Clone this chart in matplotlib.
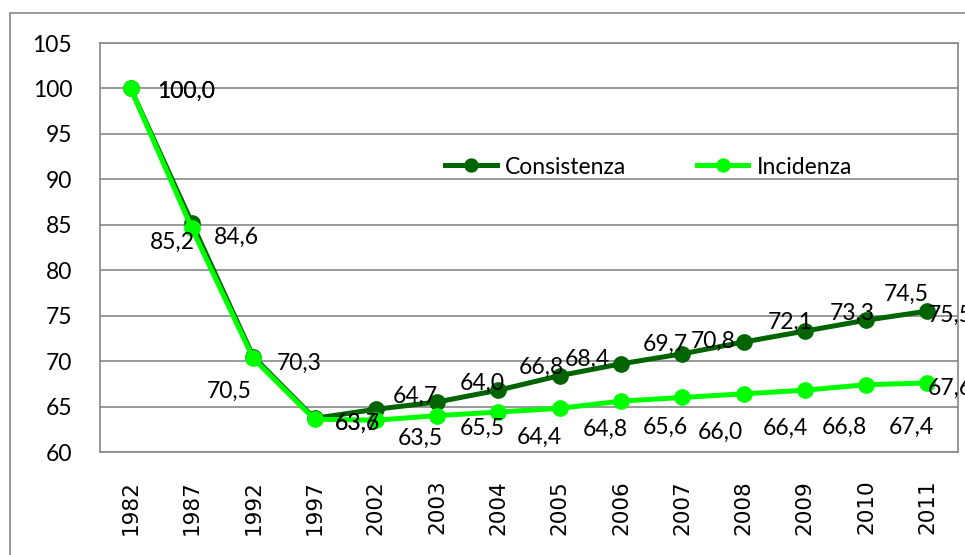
import matplotlib
matplotlib.use("Agg")
import matplotlib.pyplot as plt
from matplotlib.patches import Rectangle

years = ["1982", "1987", "1992", "1997", "2002", "2003", "2004", "2005",
         "2006", "2007", "2008", "2009", "2010", "2011"]
consistenza = [100.0, 85.2, 70.5, 63.7, 64.7, 65.5, 66.8, 68.4, 69.7, 70.8, 72.1, 73.3, 74.5, 75.5]
incidenza = [100.0, 84.6, 70.3, 63.6, 63.5, 64.0, 64.4, 64.8, 65.6, 66.0, 66.4, 66.8, 67.4, 67.6]
# the labels printed on the chart (2003 labels are swapped in the original)
consistenza_labels = [100.0, 85.2, 70.5, 63.7, 64.7, 64.0, 66.8, 68.4, 69.7, 70.8, 72.1, 73.3, 74.5, 75.5]
incidenza_labels = [100.0, 84.6, 70.3, 63.6, 63.5, 65.5, 64.4, 64.8, 65.6, 66.0, 66.4, 66.8, 67.4, 67.6]

# label offsets from the point, in pixels (dx right, dy down)
cons_off = [(55, 3), (-20, 19), (-24, 35), (43, 5), (40, -13), (45, -19), (43, -23),
            (28, -16), (44, -19), (31, -12), (47, -20), (47, -18), (40, -26), (23, 4)]
inc_off = [(55, 3), (45, 9), (46, 5), (43, 4), (45, 18), (45, 13), (41, 25),
           (46, 21), (44, 26), (38, 35), (42, 35), (40, 37), (45, 43), (23, 5)]

dark = "#006400"
light = "#00ff00"
grey = "#878787"
W, H = 965, 555

fig = plt.figure(figsize=(W / 100, H / 100), dpi=100)
ax = fig.add_axes([100 / W, 1 - 452 / H, (958 - 100) / W, (452 - 43) / H])

x = list(range(len(years)))
ax.plot(x, consistenza, color=dark, lw=3.6, marker="o", ms=11, label="Consistenza", zorder=3)
ax.plot(x, incidenza, color=light, lw=3.6, marker="o", ms=11, label="Incidenza", zorder=4)

lab_font = dict(family="Lato", size=16.5, color="black")
for xi, yi, v, (dx, dy) in zip(x, consistenza, consistenza_labels, cons_off):
    ax.annotate(f"{v:.1f}".replace(".", ","), (xi, yi), xytext=(dx, -dy),
                textcoords="offset pixels", ha="center", va="center",
                annotation_clip=False, zorder=5, **lab_font)
for xi, yi, v, (dx, dy) in zip(x, incidenza, incidenza_labels, inc_off):
    ax.annotate(f"{v:.1f}".replace(".", ","), (xi, yi), xytext=(dx, -dy),
                textcoords="offset pixels", ha="center", va="center",
                annotation_clip=False, zorder=5, **lab_font)

ax.set_xlim(-0.5, len(years) - 0.5)
ax.set_ylim(60, 105)
ax.set_yticks(range(60, 106, 5))
ax.set_xticks(x)
ax.set_xticklabels(years, rotation=90, family="DejaVu Sans", fontsize=15.5)
for t in ax.get_yticklabels():
    t.set_family("Lato")
    t.set_fontsize(16.5)
ax.tick_params(axis="both", length=0)
ax.tick_params(axis="x", pad=20)
ax.tick_params(axis="y", pad=20)
ax.grid(axis="y", color=grey, lw=1.2)
ax.set_axisbelow(True)
for s in ax.spines.values():
    s.set_color(grey)
    s.set_linewidth(1.2)

ax.legend(loc="center left", bbox_to_anchor=(445 / W, 1 - 167 / H),
          bbox_transform=fig.transFigure, ncol=2, frameon=False,
          prop={"family": "Lato", "size": 16.5}, handlelength=2.25,
          handletextpad=0.35, columnspacing=3.1, borderpad=0, borderaxespad=0,
          markerscale=0.85)

fig.add_artist(Rectangle((10 / W, -0.1), 1.2, 1.1 - 13 / H, transform=fig.transFigure,
                         fill=False, edgecolor=grey, lw=1.2))

fig.savefig("out.png", dpi=100)
plt.close(fig)
